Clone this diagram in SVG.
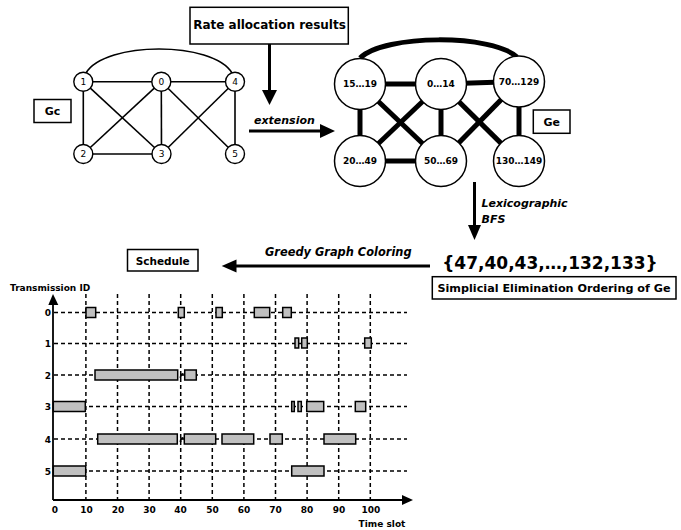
<svg xmlns="http://www.w3.org/2000/svg" width="681" height="530" viewBox="0 0 681 530">
<style>
text{font-family:"DejaVu Sans","Liberation Sans",sans-serif;fill:#000}
.b{font-weight:bold}
.bi{font-weight:bold;font-style:italic}
.box{fill:#fff;stroke:#000;stroke-width:1.5}
.gcn{fill:#fff;stroke:#000;stroke-width:1.4}
.gce{stroke:#000;stroke-width:1.6;fill:none}
.gen{fill:#fff;stroke:#000;stroke-width:1.5}
.gee{stroke:#000;stroke-width:5;fill:none}
.arr{stroke:#000;stroke-width:3;fill:none}
.grid{stroke:#000;stroke-width:1.5;stroke-dasharray:4,3;fill:none}
.axis{stroke:#000;stroke-width:1.8;fill:none}
.bar{fill:#c0c0c0;stroke:#000;stroke-width:1.5}
.gl{font-size:9px;text-anchor:middle}
.el{font-size:9px;font-weight:bold;text-anchor:middle}
.tk{font-size:9px;font-weight:bold;text-anchor:middle}
.rl{font-size:9px;font-weight:bold;text-anchor:end}
</style>

<!-- Gc graph -->
<g id="gc-edges">
<path class="gce" d="M86,73 C105,41 213,41 232,73"/>
<line class="gce" x1="83.3" y1="81.7" x2="161.3" y2="81.7"/>
<line class="gce" x1="161.3" y1="81.7" x2="235" y2="81.7"/>
<line class="gce" x1="83.3" y1="81.7" x2="83.3" y2="154"/>
<line class="gce" x1="83.3" y1="81.7" x2="161.5" y2="154"/>
<line class="gce" x1="161.3" y1="81.7" x2="83.3" y2="154"/>
<line class="gce" x1="161.3" y1="81.7" x2="161.5" y2="154"/>
<line class="gce" x1="161.3" y1="81.7" x2="235" y2="154"/>
<line class="gce" x1="235" y1="81.7" x2="161.5" y2="154"/>
<line class="gce" x1="235" y1="81.7" x2="235" y2="154"/>
<line class="gce" x1="83.3" y1="154" x2="161.5" y2="154"/>
</g>
<g id="gc-node-1"><circle class="gcn" cx="83.3" cy="81.7" r="9.5"/><text class="gl" x="83.3" y="85">1</text></g>
<g id="gc-node-0"><circle class="gcn" cx="161.3" cy="81.7" r="9.5"/><text class="gl" x="161.3" y="85">0</text></g>
<g id="gc-node-4"><circle class="gcn" cx="235" cy="81.7" r="9.5"/><text class="gl" x="235" y="85">4</text></g>
<g id="gc-node-2"><circle class="gcn" cx="83.3" cy="154" r="9.5"/><text class="gl" x="83.3" y="157.3">2</text></g>
<g id="gc-node-3"><circle class="gcn" cx="161.5" cy="154" r="9.5"/><text class="gl" x="161.5" y="157.3">3</text></g>
<g id="gc-node-5"><circle class="gcn" cx="235" cy="154" r="9.5"/><text class="gl" x="235" y="157.3">5</text></g>
<g id="gc-label"><rect class="box" x="34" y="99.5" width="37" height="23"/><text class="b" x="52.5" y="115" font-size="11" text-anchor="middle">Gc</text></g>

<!-- Ge graph -->
<g id="ge-edges">
<path class="gee" d="M360,58 C385,34 492,34 517,57"/>
<line class="gee" x1="360" y1="84" x2="441" y2="84"/>
<line class="gee" x1="441" y1="84" x2="519" y2="81.5"/>
<line class="gee" x1="360" y1="84" x2="360" y2="161"/>
<line class="gee" x1="360" y1="84" x2="441" y2="161"/>
<line class="gee" x1="441" y1="84" x2="360" y2="161"/>
<line class="gee" x1="441" y1="84" x2="441" y2="161"/>
<line class="gee" x1="441" y1="84" x2="519" y2="161"/>
<line class="gee" x1="519" y1="81.5" x2="441" y2="161"/>
<line class="gee" x1="519" y1="81.5" x2="519" y2="161"/>
<line class="gee" x1="360" y1="161" x2="441" y2="161"/>
</g>
<g id="ge-node-15-19"><circle class="gen" cx="360" cy="84" r="25.5"/><text class="el" x="360" y="87.3">15…19</text></g>
<g id="ge-node-0-14"><circle class="gen" cx="441" cy="84" r="25.5"/><text class="el" x="441" y="87.3">0…14</text></g>
<g id="ge-node-70-129"><circle class="gen" cx="519" cy="81.5" r="25.5"/><text class="el" x="519" y="84.5">70…129</text></g>
<g id="ge-node-20-49"><circle class="gen" cx="360" cy="161" r="25.5"/><text class="el" x="360" y="164.3">20…49</text></g>
<g id="ge-node-50-69"><circle class="gen" cx="441" cy="161" r="25.5"/><text class="el" x="441" y="164.3">50…69</text></g>
<g id="ge-node-130-149"><circle class="gen" cx="519" cy="161" r="25.5"/><text class="el" x="519" y="163.5">130…149</text></g>
<g id="ge-label"><rect class="box" x="533.3" y="110" width="36.7" height="23.3"/><text class="b" x="551.7" y="126" font-size="11" text-anchor="middle">Ge</text></g>

<!-- Boxes and texts -->
<g id="rate-box"><rect class="box" x="190" y="7.3" width="158.3" height="36.7"/><text class="b" x="269.5" y="29" font-size="12" text-anchor="middle">Rate allocation results</text></g>
<g id="schedule-box"><rect class="box" x="127.5" y="249.5" width="70.5" height="21.5"/><text class="b" x="162.7" y="265" font-size="10.5" text-anchor="middle">Schedule</text></g>
<g id="ordering"><text class="b" x="550" y="269" font-size="17" text-anchor="middle">{47,40,43,…,132,133}</text></g>
<g id="simplicial-box"><rect class="box" x="432.3" y="276.7" width="243.7" height="22.3"/><text class="b" x="554" y="292" font-size="11.2" text-anchor="middle">Simplicial Elimination Ordering of Ge</text></g>

<!-- Connectors -->
<g id="connectors">
<line class="arr" x1="269.5" y1="44" x2="269.5" y2="92"/>
<polygon points="262,90 277,90 269.5,105"/>
<line class="arr" x1="249" y1="131" x2="322" y2="131"/>
<polygon points="320,124 320,138 335,131"/>
<line class="arr" x1="474.5" y1="182" x2="474.5" y2="227"/>
<polygon points="468,225 481,225 474.5,240"/>
<line class="arr" x1="430" y1="266" x2="234" y2="266"/>
<polygon points="236.5,259.5 236.5,272.5 221.7,266"/>
<text class="bi" x="254" y="124" font-size="11">extension</text>
<text class="bi" x="481.5" y="207" font-size="11">Lexicographic</text>
<text class="bi" x="481.5" y="223" font-size="11">BFS</text>
<text class="bi" x="265" y="256" font-size="11.4">Greedy Graph Coloring</text>
</g>

<!-- Chart -->
<g id="chart-grid">
<line class="grid" x1="85.9" y1="294" x2="85.9" y2="500"/>
<line class="grid" x1="117.5" y1="294" x2="117.5" y2="500"/>
<line class="grid" x1="149.1" y1="294" x2="149.1" y2="500"/>
<line class="grid" x1="180.7" y1="294" x2="180.7" y2="500"/>
<line class="grid" x1="212.3" y1="294" x2="212.3" y2="500"/>
<line class="grid" x1="243.9" y1="294" x2="243.9" y2="500"/>
<line class="grid" x1="275.5" y1="294" x2="275.5" y2="500"/>
<line class="grid" x1="307.1" y1="294" x2="307.1" y2="500"/>
<line class="grid" x1="338.7" y1="294" x2="338.7" y2="500"/>
<line class="grid" x1="370.3" y1="294" x2="370.3" y2="500"/>
<line class="grid" x1="54" y1="312.5" x2="407" y2="312.5"/>
<line class="grid" x1="54" y1="343.5" x2="407" y2="343.5"/>
<line class="grid" x1="54" y1="375" x2="407" y2="375"/>
<line class="grid" x1="54" y1="406.5" x2="407" y2="406.5"/>
<line class="grid" x1="54" y1="439" x2="407" y2="439"/>
<line class="grid" x1="54" y1="471" x2="407" y2="471"/>
</g>
<g id="chart-bars">
<rect class="bar" x="86" y="307.5" width="9.7" height="10"/>
<rect class="bar" x="178.3" y="307.5" width="6" height="10"/>
<rect class="bar" x="216" y="307.5" width="6.3" height="10"/>
<rect class="bar" x="254.3" y="307.5" width="15.4" height="10"/>
<rect class="bar" x="282.7" y="307.5" width="8.6" height="10"/>
<rect class="bar" x="295" y="338" width="3.7" height="10"/>
<rect class="bar" x="301.7" y="338" width="5.6" height="10"/>
<rect class="bar" x="364.7" y="338" width="6.6" height="10"/>
<rect class="bar" x="95" y="370" width="82.7" height="10"/>
<rect class="bar" x="184.7" y="370" width="11.6" height="10"/>
<rect class="bar" x="53.3" y="401.5" width="32" height="10"/>
<rect class="bar" x="291.7" y="401.5" width="2.6" height="10"/>
<rect class="bar" x="298" y="401.5" width="3.3" height="10"/>
<rect class="bar" x="306.7" y="401.5" width="17" height="10"/>
<rect class="bar" x="355.3" y="401.5" width="10.4" height="10"/>
<rect class="bar" x="97.7" y="434" width="79.6" height="10"/>
<rect class="bar" x="184.3" y="434" width="31.4" height="10"/>
<rect class="bar" x="222" y="434" width="31.7" height="10"/>
<rect class="bar" x="270" y="434" width="12.3" height="10"/>
<rect class="bar" x="324" y="434" width="31.7" height="10"/>
<rect class="bar" x="53.3" y="466" width="32.4" height="10"/>
<rect class="bar" x="291.7" y="466" width="32.3" height="10"/>
<path class="axis" stroke-width="1.2" d="M180.5,378 q0,-4 3,-4 M180.5,442 q0,-4 3,-4"/>
</g>
<g id="chart-axes">
<line class="axis" x1="53" y1="500" x2="53" y2="303"/>
<polygon points="48.3,305 58.3,305 53,294"/>
<line class="axis" x1="53" y1="500" x2="404" y2="500"/>
<polygon points="402,495 402,505 413,500"/>
<text class="b" x="10" y="291" font-size="9">Transmission ID</text>
<text class="b" x="382" y="527" font-size="9" text-anchor="middle">Time slot</text>
<text class="rl" x="51" y="316">0</text>
<text class="rl" x="51" y="347">1</text>
<text class="rl" x="51" y="378.5">2</text>
<text class="rl" x="51" y="410">3</text>
<text class="rl" x="51" y="442.5">4</text>
<text class="rl" x="51" y="474.5">5</text>
<text class="tk" x="55" y="513">0</text>
<text class="tk" x="86.5" y="513">10</text>
<text class="tk" x="118" y="513">20</text>
<text class="tk" x="149.5" y="513">30</text>
<text class="tk" x="180.5" y="513">40</text>
<text class="tk" x="212.5" y="513">50</text>
<text class="tk" x="244" y="513">60</text>
<text class="tk" x="275.5" y="513">70</text>
<text class="tk" x="307" y="513">80</text>
<text class="tk" x="339" y="513">90</text>
<text class="tk" x="371" y="513">100</text>
</g>
</svg>
